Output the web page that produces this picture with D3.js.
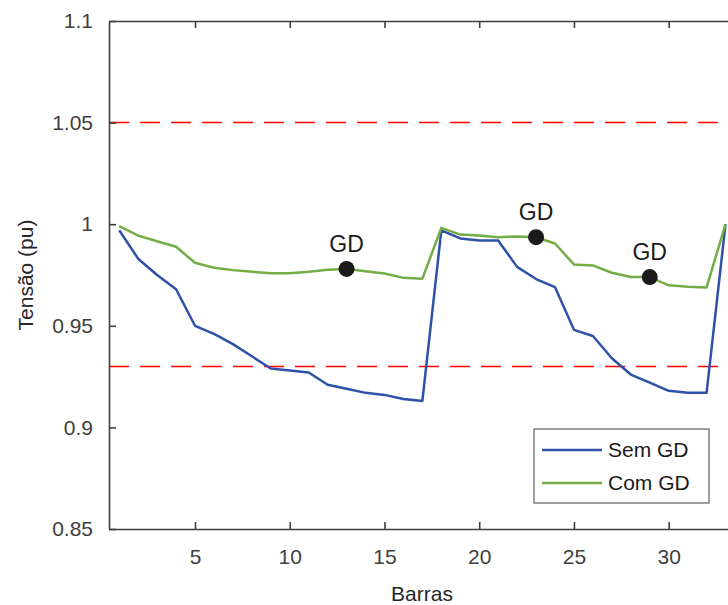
<!DOCTYPE html>
<html>
<head>
<meta charset="utf-8">
<script src="https://cdn.jsdelivr.net/npm/d3@7"></script>
<style>
  body { margin: 0; background: #fff; }
  svg { display: block; font-family: "Liberation Sans", Arial, sans-serif; }
</style>
</head>
<body>
<script>
var width = 728, height = 605;

var barras = d3.range(1, 34);
var semGD = [0.997, 0.983, 0.975, 0.968, 0.950, 0.946, 0.941, 0.935, 0.929, 0.928, 0.927,
             0.921, 0.919, 0.917, 0.916, 0.914, 0.913, 0.997, 0.993, 0.992, 0.992, 0.979,
             0.973, 0.969, 0.948, 0.945, 0.934, 0.926, 0.922, 0.918, 0.917, 0.917, 1.0];
var comGD = [0.999, 0.9944, 0.9916, 0.9889, 0.981, 0.9786, 0.9774, 0.9766, 0.9759, 0.9759, 0.9766,
             0.9776, 0.978, 0.9768, 0.9757, 0.9736, 0.9732, 0.9982, 0.9949, 0.9944, 0.9936, 0.994,
             0.9936, 0.9905, 0.9802, 0.9797, 0.9761, 0.974, 0.974, 0.9699, 0.9692, 0.9689, 1.0];
var gdBarras = [13, 23, 29];
var limites = [1.05, 0.93];
var xTicks = [5, 10, 15, 20, 25, 30];
var yTicks = [0.85, 0.9, 0.95, 1, 1.05, 1.1];
var series = [{name: "Sem GD", values: semGD, colour: "#2f52a8"},
              {name: "Com GD", values: comGD, colour: "#72ad45"}];

var pLeft = 109, pRight = 735, pTop = 21, pBottom = 529;
var axisColour = "#404040";

var x = d3.scaleLinear().domain([0.46, 33.5]).range([pLeft, pRight]),
    y = d3.scaleLinear().domain([0.85, 1.1]).range([pBottom, pTop]);

var svg = d3.select("body").append("svg").attr("width", width).attr("height", height);

// limit lines
svg.selectAll(".lim")
  .data(limites)
  .enter().append("line")
    .attr("x1", pLeft).attr("x2", pRight)
    .attr("y1", function(d){ return y(d); })
    .attr("y2", function(d){ return y(d); })
    .attr("stroke", "#ff0000").attr("stroke-width", 1.5)
    .attr("stroke-dasharray", "20,11");

// voltage profiles
var line = d3.line()
  .x(function(d, i){ return x(barras[i]); })
  .y(function(d){ return y(d); });

svg.selectAll(".serie")
  .data(series)
  .enter().append("path")
    .attr("fill", "none")
    .attr("stroke", function(d){ return d.colour; })
    .attr("stroke-width", 2.5)
    .attr("stroke-linejoin", "round")
    .attr("d", function(d){ return line(d.values); });

// GD markers
svg.selectAll(".gd")
  .data(gdBarras)
  .enter().append("circle")
    .attr("cx", function(d){ return x(d); })
    .attr("cy", function(d){ return y(comGD[d - 1]); })
    .attr("r", 8)
    .attr("fill", "#1a1a1a");

svg.selectAll(".gdlabel")
  .data(gdBarras)
  .enter().append("text")
    .attr("x", function(d){ return x(d); })
    .attr("y", function(d){ return y(comGD[d - 1]) - 17; })
    .attr("text-anchor", "middle")
    .attr("font-size", 23)
    .attr("fill", "#1a1a1a")
    .text("GD");

// axes
var xAxisB = d3.axisBottom(x).tickValues(xTicks).tickSizeInner(-7).tickSizeOuter(0).tickPadding(20);
var xAxisT = d3.axisTop(x).tickValues(xTicks).tickSizeInner(-7).tickSizeOuter(0).tickFormat("");
var yAxisL = d3.axisLeft(y).tickValues(yTicks).tickSizeInner(-7).tickSizeOuter(0).tickPadding(16)
  .tickFormat(function(d){ return String(+d.toFixed(2)); });
var yAxisR = d3.axisRight(y).tickValues(yTicks).tickSizeInner(-7).tickSizeOuter(0).tickFormat("");

function style(g) {
  g.select(".domain").attr("stroke", axisColour).attr("stroke-width", 1.6);
  g.selectAll(".tick line").attr("stroke", axisColour).attr("stroke-width", 1.6);
  g.selectAll(".tick text").attr("fill", axisColour).attr("font-size", 21);
  g.attr("font-family", null);
}

svg.append("g").attr("transform", "translate(0," + pBottom + ")").call(xAxisB).call(style);
svg.append("g").attr("transform", "translate(0," + pTop + ")").call(xAxisT).call(style);
svg.append("g").attr("transform", "translate(" + pLeft + ",0)").call(yAxisL).call(style);
svg.append("g").attr("transform", "translate(" + pRight + ",0)").call(yAxisR).call(style);

// axis titles
svg.append("text")
  .attr("x", (pLeft + pRight) / 2).attr("y", 601)
  .attr("text-anchor", "middle").attr("font-size", 21).attr("fill", "#262626")
  .text("Barras");

svg.append("text")
  .attr("transform", "translate(33," + (pTop + pBottom) / 2 + ") rotate(-90)")
  .attr("text-anchor", "middle").attr("font-size", 21).attr("fill", "#262626")
  .text("Tensão (pu)");

// legend
var lg = svg.append("g");
lg.append("rect")
  .attr("x", 534).attr("y", 429).attr("width", 175).attr("height", 74)
  .attr("fill", "#fff").attr("stroke", "#404040").attr("stroke-width", 1);

lg.selectAll(".item")
  .data(series)
  .enter().append("g")
    .attr("transform", function(d, i){ return "translate(542," + (450 + i * 33) + ")"; })
    .each(function(d){
      var g = d3.select(this);
      g.append("line").attr("x1", 0).attr("x2", 60)
        .attr("stroke", d.colour).attr("stroke-width", 2.5);
      g.append("text").attr("x", 66).attr("y", 7)
        .attr("font-size", 21).attr("fill", "#1a1a1a")
        .text(d.name);
    });
</script>
</body>
</html>
